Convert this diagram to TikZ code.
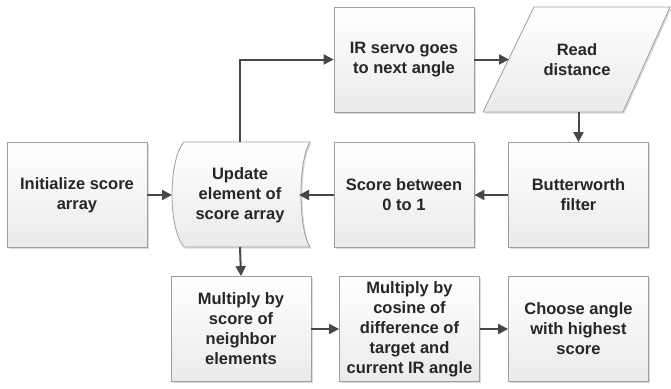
\documentclass[tikz,border=0pt]{standalone}
\usepackage{fontspec}
\setmainfont{Liberation Sans}
\usetikzlibrary{arrows.meta,shadows}
\definecolor{txt}{HTML}{262626}
\definecolor{bord}{HTML}{9E9E9E}
\definecolor{arr}{HTML}{474747}
\tikzset{
  boxfill/.style={draw=bord, line width=0.8pt, top color=white, bottom color=black!8,
    drop shadow={shadow xshift=1.5pt, shadow yshift=-1.5pt, opacity=0.3, fill=black!45}},
  lbl/.style={align=center, inner sep=0pt, text=txt, font=\bfseries\fontsize{16.5}{20}\selectfont},
  procbox/.style={boxfill, lbl, minimum width=140pt, minimum height=105pt},
  flow/.style={draw=arr, line width=2pt, -{Triangle[length=10pt,width=10pt]}}
}
\begin{document}
\begin{tikzpicture}[x=1pt,y=-1pt]
\useasboundingbox (0,0) rectangle (671,388);
% rectangular process boxes
\node[procbox] (init) at (77,195) {Initialize score\\array};
\node[procbox] (score) at (404,195) {Score between\\0 to 1};
\node[procbox] (butter) at (578.5,195) {Butterworth\\filter};
\node[procbox] (servo) at (404,59.5) {IR servo goes\\to next angle};
\node[procbox] (mulnb) at (241,329) {Multiply by\\score of\\neighbor\\elements};
\node[procbox] (mulcos) at (409.5,329) {Multiply by\\cosine of\\difference of\\target and\\current IR angle};
\node[procbox] (choose) at (578.5,329) {Choose angle\\with highest\\score};
% stored-data shape
\path[boxfill] (184,142) -- (310,142) .. controls (298,160) and (298,229) .. (310,247)
  -- (184,247) .. controls (168,229) and (168,160) .. (184,142) -- cycle;
\node[lbl] (upd) at (240,195) {Update\\element of\\score array};
\coordinate (updN) at (240,142);
\coordinate (updS) at (240,247);
\coordinate (updL) at (172,195);
\coordinate (updR) at (299,195);
% parallelogram
\path[boxfill] (534,7) -- (670,7) -- (623,112) -- (483,112) -- cycle;
\node[lbl] (read) at (577,59.5) {Read\\distance};
\coordinate (readL) at (509,59.5);
\coordinate (readB) at (578.5,112);
% connectors
\draw[flow] (init.east) -- (updL);
\draw[flow] (score.west) -- (updR);
\draw[flow] (butter.west) -- (score.east);
\draw[flow] (readB) -- (butter.north);
\draw[flow] (servo.east) -- (readL);
\draw[flow] (updN) |- (servo.west);
\draw[flow] (updS) -- (mulnb.north);
\draw[flow] (mulnb.east) -- (mulcos.west);
\draw[flow] (mulcos.east) -- (choose.west);
\end{tikzpicture}
\end{document}
